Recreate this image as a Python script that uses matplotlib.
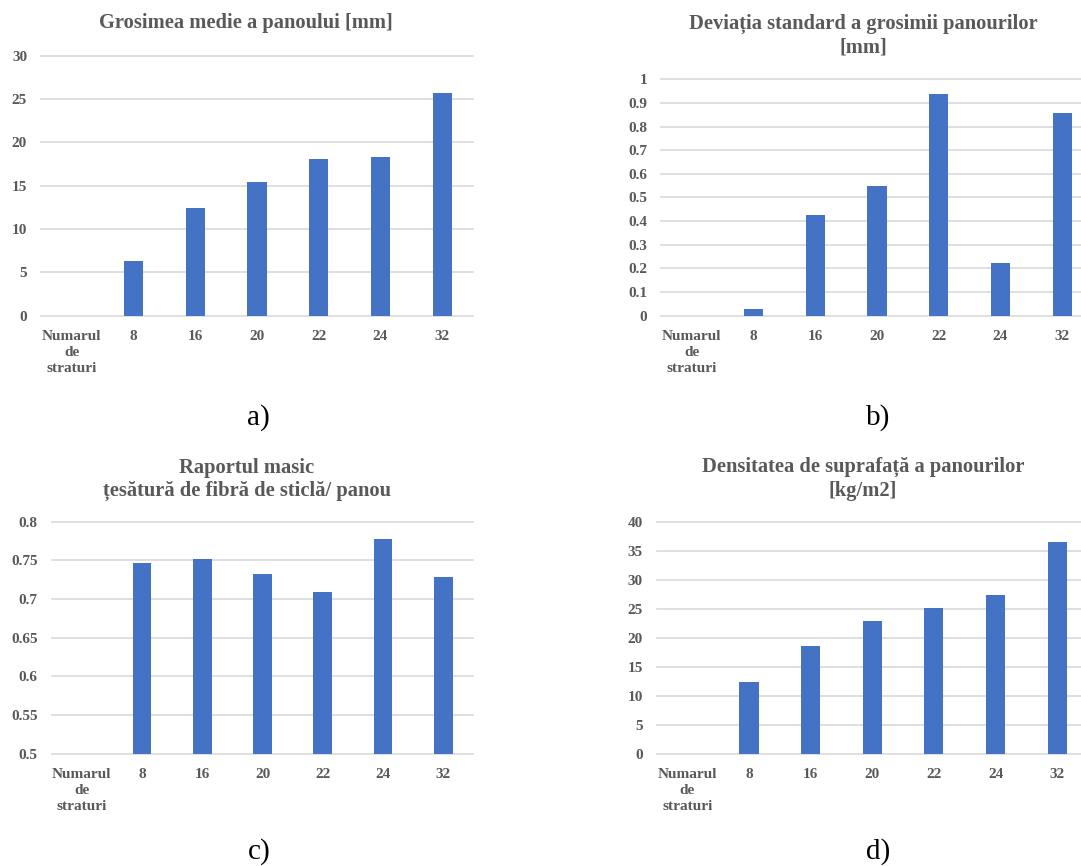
import matplotlib
matplotlib.use('Agg')
import matplotlib.pyplot as plt

categorii = ['Numarul\nde\nstraturi', '8', '16', '20', '22', '24', '32']
grosime = [0, 6.35, 12.46, 15.46, 18.04, 18.27, 25.73]
deviatie = [0, 0.028, 0.426, 0.55, 0.938, 0.224, 0.856]
raport = [0, 0.7466, 0.752, 0.7325, 0.709, 0.777, 0.7285]
densitate = [0, 12.3, 18.5, 22.9, 25.07, 27.4, 36.5]

titluri = ['Grosimea medie a panoului [mm]',
           'Deviația standard a grosimii panourilor\n[mm]',
           'Raportul masic\nțesătură de fibră de sticlă/ panou',
           'Densitatea de suprafață a panourilor\n[kg/m2]']
etichete = ['a)', 'b)', 'c)', 'd)']

W, H = 1081, 866
plt.rcParams['font.family'] = ['Liberation Serif', 'DejaVu Serif']
fig = plt.figure(figsize=(W / 100, H / 100), dpi=100)

gri = '#595959'
albastru = '#4472C4'


def panou(box, valori, ylim, pas, titlu, tpos, et, epos):
    x0, x1, ytop, ybot = box
    ax = fig.add_axes([x0 / W, 1 - ybot / H, (x1 - x0) / W, (ybot - ytop) / H])
    x = list(range(len(categorii)))
    ax.bar(x, [v - ylim[0] if v > 0 else 0 for v in valori], width=0.31,
           bottom=ylim[0], color=albastru, zorder=3)
    ax.set_xlim(-0.5, len(categorii) - 0.5)
    ax.set_ylim(*ylim)
    ticks = []
    t = ylim[0]
    while t <= ylim[1] + 1e-9:
        ticks.append(round(t, 4))
        t += pas
    ax.set_yticks(ticks)
    ax.set_yticklabels(['%g' % v for v in ticks])
    ax.set_xticks(x)
    ax.set_xticklabels(categorii, linespacing=1.3)
    for s in ax.spines.values():
        s.set_visible(False)
    ax.tick_params(length=0, colors=gri, labelsize=11)
    ax.tick_params(axis='y', pad=10)
    ax.tick_params(axis='x', pad=10.5)
    for lab in ax.get_xticklabels() + ax.get_yticklabels():
        lab.set_fontweight('bold')
    ax.grid(axis='y', color='#d9d9d9', linewidth=1.2, zorder=0)
    for gl in ax.get_ygridlines():
        gl.set_clip_on(False)
    fig.text(tpos[0] / W, 1 - tpos[1] / H, titlu, ha='center', va='center',
             fontsize=14.8, fontweight='bold', color=gri, linespacing=1.22)
    fig.text(epos[0] / W, 1 - epos[1] / H, et, ha='center', va='center',
             fontsize=21, color='black')


panou((41, 473, 55.7, 315.7), grosime, (0, 30), 5,
      titluri[0], (246, 23), etichete[0], (258, 418))
panou((661, 1093, 79.3, 315.7), deviatie, (0, 1), 0.1,
      titluri[1], (863, 35.5), etichete[1], (878, 418))
panou((51.7, 473.3, 521.7, 753.7), raport, (0.5, 0.8), 0.05,
      titluri[2], (246.7, 479.5), etichete[2], (259, 852))
panou((656.5, 1088, 521.7, 753.7), densitate, (0, 40), 5,
      titluri[3], (863, 479), etichete[3], (878, 852))

fig.savefig('out.png', dpi=100)
